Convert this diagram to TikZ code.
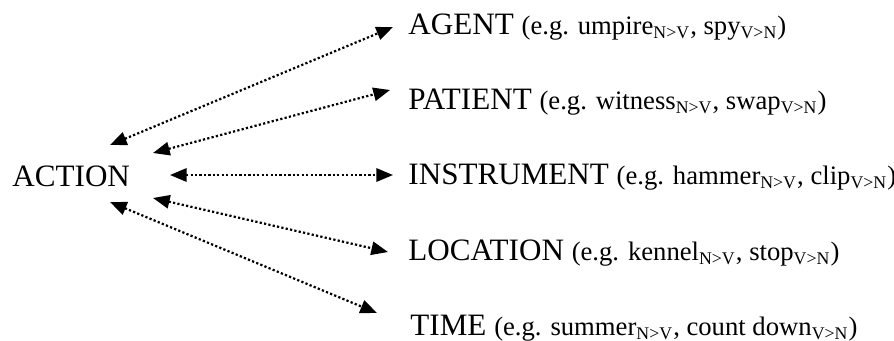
\documentclass[tikz,border=0pt]{standalone}
\usepackage{fontspec}
\setmainfont{Liberation Serif}
\usepackage{tikz}
\usetikzlibrary{arrows.meta}

\newcommand{\eg}[1]{{\fontsize{12}{14}\selectfont #1}}
\tikzset{
  role/.style={anchor=base west, inner sep=0pt, font=\fontsize{14}{16}\selectfont},
  link/.style={line width=1pt, dash pattern=on 1pt off 1pt,
    {Triangle[length=7.5pt,width=6pt]}-{Triangle[length=7.5pt,width=6pt]}}
}

\begin{document}
\begin{tikzpicture}[x=0.45pt,y=-0.45pt]
\useasboundingbox (0,0) rectangle (894,340);

% definitions
\node[role] (action) at (12,186) {ACTION};
\node[role] (agent) at (408,34) {AGENT \eg{(e.g. umpire\textsubscript{N>V}, spy\textsubscript{V>N})}};
\node[role] (patient) at (408,109) {PATIENT \eg{(e.g. witness\textsubscript{N>V}, swap\textsubscript{V>N})}};
\node[role] (instrument) at (408,184) {INSTRUMENT \eg{(e.g. hammer\textsubscript{N>V}, clip\textsubscript{V>N})}};
\node[role] (location) at (408,260) {LOCATION \eg{(e.g. kennel\textsubscript{N>V}, stop\textsubscript{V>N})}};
\node[role] (time) at (410,335) {TIME \eg{(e.g. summer\textsubscript{N>V}, count down\textsubscript{V>N})}};

% arrow ends round ACTION
\coordinate (a1) at ([shift={(98,-41)}]action.base west);
\coordinate (a2) at ([shift={(141,-33)}]action.base west);
\coordinate (a3) at ([shift={(158,-11)}]action.base west);
\coordinate (a4) at ([shift={(141,12)}]action.base west);
\coordinate (a5) at ([shift={(98,16)}]action.base west);

% drawing
\draw[link] (a1) -- ([shift={(-15,-7)}]agent.base west);
\draw[link] (a2) -- ([shift={(-18,-19)}]patient.base west);
\draw[link] (a3) -- ([shift={(-15,-9)}]instrument.base west);
\draw[link] (a4) -- ([shift={(-20,-8)}]location.base west);
\draw[link] (a5) -- ([shift={(-33,-22)}]time.base west);
\end{tikzpicture}
\end{document}
